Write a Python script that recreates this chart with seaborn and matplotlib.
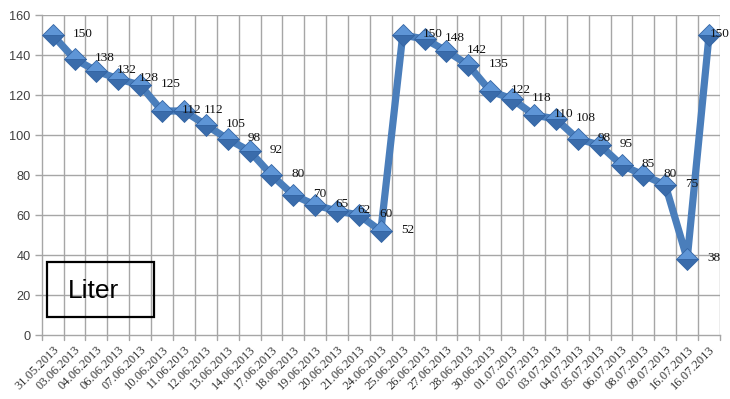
import numpy as np
import pandas as pd
import matplotlib
matplotlib.use("Agg")
import matplotlib.pyplot as plt
from matplotlib.patches import Rectangle
import seaborn as sns

# Reading dates (category labels) and fill levels in litres
dates = [
    "31.05.2013", "03.06.2013", "04.06.2013", "06.06.2013", "07.06.2013",
    "10.06.2013", "11.06.2013", "12.06.2013", "13.06.2013", "14.06.2013",
    "17.06.2013", "18.06.2013", "19.06.2013", "20.06.2013", "21.06.2013",
    "24.06.2013", "25.06.2013", "26.06.2013", "27.06.2013", "28.06.2013",
    "30.06.2013", "01.07.2013", "02.07.2013", "03.07.2013", "04.07.2013",
    "05.07.2013", "06.07.2013", "08.07.2013", "09.07.2013", "16.07.2013",
    "16.07.2013",
]
liters = [
    150, 138, 132, 128, 125, 112, 112, 105, 98, 92, 80, 70, 65, 62, 60, 52,
    150, 148, 142, 135, 122, 118, 110, 108, 98, 95, 85, 80, 75, 38, 150,
]
y_ticks = [0, 20, 40, 60, 80, 100, 120, 140, 160]

df = pd.DataFrame({"pos": np.arange(len(dates)), "liter": liters})

sns.set_style("white")
W, H = 730, 399
fig = plt.figure(figsize=(W / 100, H / 100), dpi=100)
ax = fig.add_axes([41.7 / W, 1 - 335 / H, (720 - 41.7) / W, (335 - 15) / H])

line_col = "#4a7ebb"
sns.lineplot(data=df, x="pos", y="liter", ax=ax, color=line_col, linewidth=5.2,
             marker="D", markersize=11.5, fillstyle="top",
             markerfacecolor="#5e95d6", markerfacecoloralt="#3a6cab",
             markeredgecolor="#3465a4", markeredgewidth=0.6, zorder=3)

n = len(dates)
ax.set_xlim(-0.5, n - 0.5)
ax.set_ylim(0, 160)

grid_col = "#a6a6a6"
# category boundary gridlines
for b in np.arange(0.5, n - 0.5 + 1e-9, 1.0):
    ax.axvline(b, color=grid_col, linewidth=1.0, zorder=1)
for yv in y_ticks[1:]:
    ax.axhline(yv, color=grid_col, linewidth=1.0, zorder=1)

ax.set_yticks(y_ticks)
ax.set_yticklabels([str(v) for v in y_ticks], fontfamily="Liberation Sans",
                   fontsize=9.2, color="#404040")
ax.set_xticks(np.arange(n))
ax.set_xticklabels(dates, rotation=45, ha="right", rotation_mode="anchor",
                   fontfamily="Liberation Serif", fontsize=9, color="#333333")
ax.tick_params(axis="x", length=0, pad=6)
ax.tick_params(axis="y", length=5, width=1, color=grid_col, pad=3, left=True)

# small ticks below the category axis at every boundary
for b in np.arange(-0.5, n - 0.5 + 1e-9, 1.0):
    ax.plot([b, b], [0, -2.5], color=grid_col, linewidth=1.0, clip_on=False, zorder=1)

for s in ["top", "right"]:
    ax.spines[s].set_visible(False)
for s in ["left", "bottom"]:
    ax.spines[s].set_color(grid_col)
    ax.spines[s].set_linewidth(1.0)
ax.set_xlabel("")
ax.set_ylabel("")

# value labels to the right of each point
for i, v in enumerate(liters):
    dx = 14.5 if i < n - 1 else 0.5
    ax.annotate(str(v), (i, v), xytext=(dx, 0.5), textcoords="offset points",
                ha="left", va="center", fontfamily="Liberation Serif",
                fontsize=9.5, color="#111111", zorder=4, annotation_clip=False)

# unit box
fig.patches.append(Rectangle((47 / W, 1 - 317 / H), (154 - 47) / W, (317 - 262) / H,
                             transform=fig.transFigure, fill=False,
                             edgecolor="black", linewidth=1.6))
fig.text(68 / W, 1 - 291 / H, "Liter", fontfamily="Liberation Sans", fontsize=19,
         ha="left", va="center", color="black")

fig.savefig("out.png", dpi=100)
